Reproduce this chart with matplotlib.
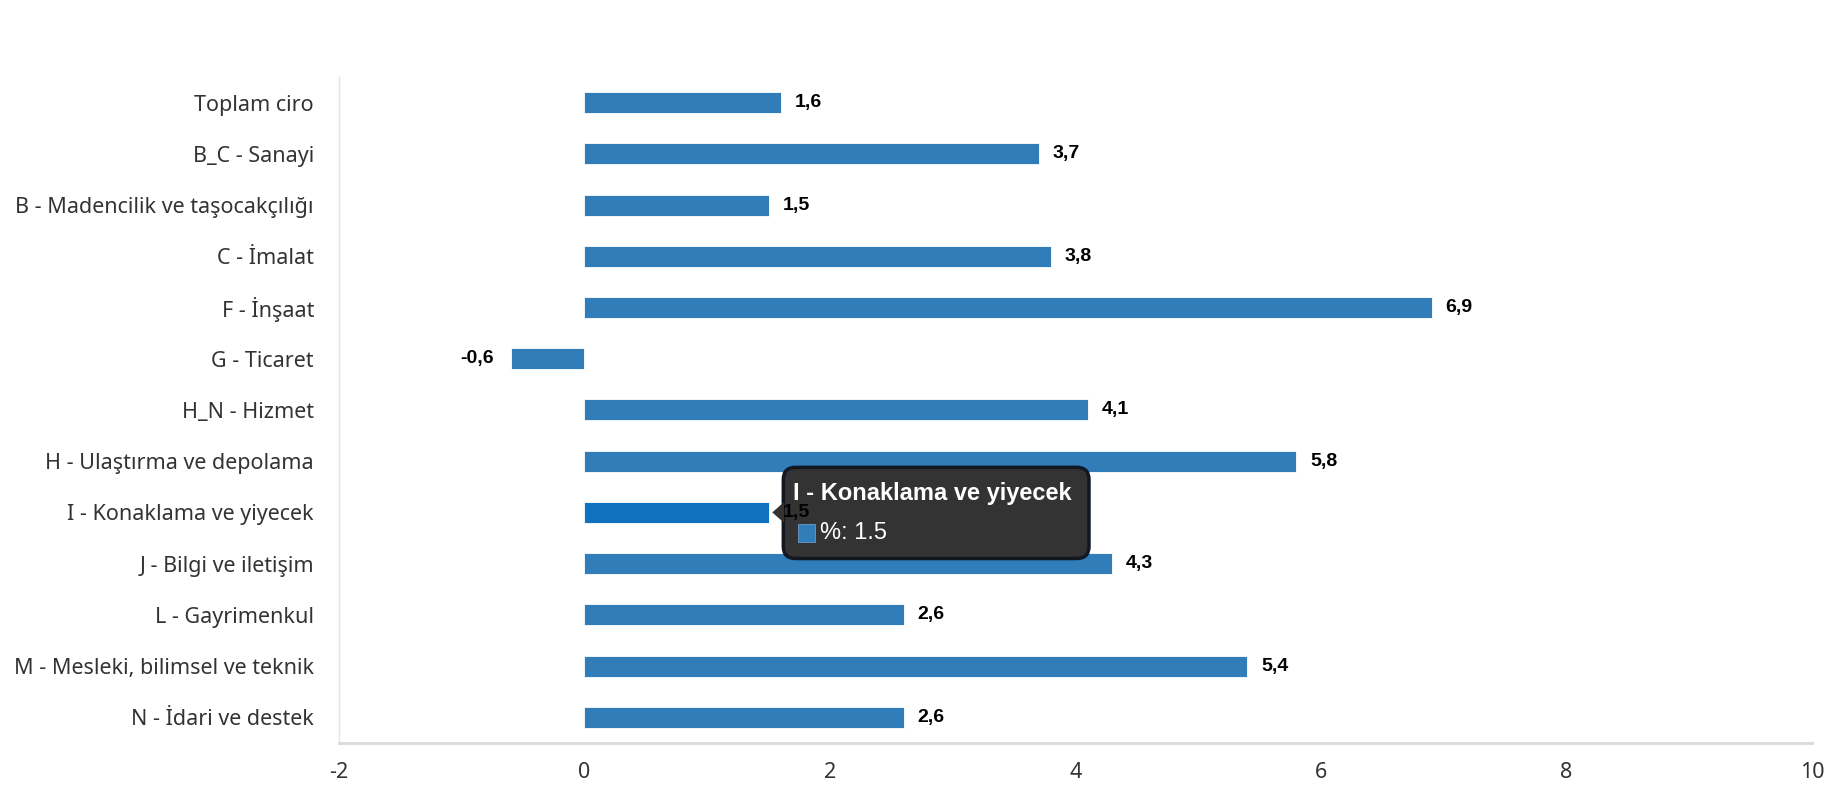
import matplotlib
matplotlib.use("Agg")
import matplotlib.pyplot as plt
from matplotlib.patches import FancyBboxPatch, Polygon, Rectangle

categories = [
    "Toplam ciro",
    "B_C - Sanayi",
    "B - Madencilik ve taşocakçılığı",
    "C - İmalat",
    "F - İnşaat",
    "G - Ticaret",
    "H_N - Hizmet",
    "H - Ulaştırma ve depolama",
    "I - Konaklama ve yiyecek",
    "J - Bilgi ve iletişim",
    "L - Gayrimenkul",
    "M - Mesleki, bilimsel ve teknik",
    "N - İdari ve destek",
]
values = [1.6, 3.7, 1.5, 3.8, 6.9, -0.6, 4.1, 5.8, 1.5, 4.3, 2.6, 5.4, 2.6]
x_ticks = [-2, 0, 2, 4, 6, 8, 10]
hover_index = 8

bar_color = "#317dba"
hover_color = "#0f72c0"

fig = plt.figure(figsize=(18.3, 8), dpi=100)
ax = fig.add_axes([0.1852, 0.0713, 0.805, 0.8325])

y = list(range(len(categories)))
colors = [hover_color if i == hover_index else bar_color for i in y]
ax.barh(y, values, height=0.41, color=colors, edgecolor="white", linewidth=0.6)

ax.set_xlim(-2, 10)
ax.set_ylim(len(categories) - 0.5, -0.5)
ax.set_xticks(x_ticks)
ax.set_xticklabels([str(t) for t in x_ticks], family=["Noto Sans", "DejaVu Sans"],
                   fontsize=15.5, color="#333333")
ax.set_yticks(y)
ax.set_yticklabels(categories, family=["Noto Sans", "DejaVu Sans"],
                   fontsize=15.5, color="#333333")
ax.tick_params(axis="both", length=0)
ax.tick_params(axis="x", pad=14)
ax.tick_params(axis="y", pad=18)

for s in ["top", "right"]:
    ax.spines[s].set_visible(False)
ax.spines["left"].set_color("#dfe5ee")
ax.spines["left"].set_linewidth(1.0)
ax.spines["bottom"].set_color("#d9d9d9")
ax.spines["bottom"].set_linewidth(2.0)

for i, v in enumerate(values):
    label = f"{v:.1f}".replace(".", ",")
    if v >= 0:
        ax.annotate(label, (v, i), xytext=(10, 0), textcoords="offset points",
                    ha="left", va="center", fontsize=14, fontweight="bold",
                    family="Liberation Sans", color="black", zorder=8)
    else:
        ax.annotate(label, (v, i), xytext=(-12, 0), textcoords="offset points",
                    ha="right", va="center", fontsize=14, fontweight="bold",
                    family="Liberation Sans", color="black", zorder=8)

# tooltip for the hovered bar
hv = values[hover_index]
box_left, box_right = hv + 0.12, 4.11
box_top, box_bottom = hover_index - 0.88, hover_index + 0.9
tip = FancyBboxPatch((box_left, box_top), box_right - box_left, box_bottom - box_top,
                     boxstyle="round,pad=0,rounding_size=0.1", mutation_aspect=2.4,
                     facecolor="#333333", edgecolor="#111822", linewidth=2.5,
                     zorder=5, clip_on=False)
ax.add_patch(tip)
ax.add_patch(Polygon([(hv + 0.03, hover_index), (box_left + 0.005, hover_index - 0.2),
                      (box_left + 0.005, hover_index + 0.2)], closed=True,
                     facecolor="#333333", edgecolor="none", zorder=6))
ax.text(box_left + 0.08, hover_index - 0.36, categories[hover_index], color="white",
        fontsize=17, fontweight="bold", family="Liberation Sans",
        ha="left", va="center", zorder=7)
ax.add_patch(Rectangle((box_left + 0.12, hover_index + 0.22), 0.14, 0.36,
                       facecolor=bar_color, edgecolor="#6b9ccc", linewidth=0.6, zorder=7))
ax.text(box_left + 0.3, hover_index + 0.4, f"%: {hv}", color="white",
        fontsize=17, family="Liberation Sans", ha="left", va="center", zorder=7)

fig.savefig("out.png", dpi=100, facecolor="white")
